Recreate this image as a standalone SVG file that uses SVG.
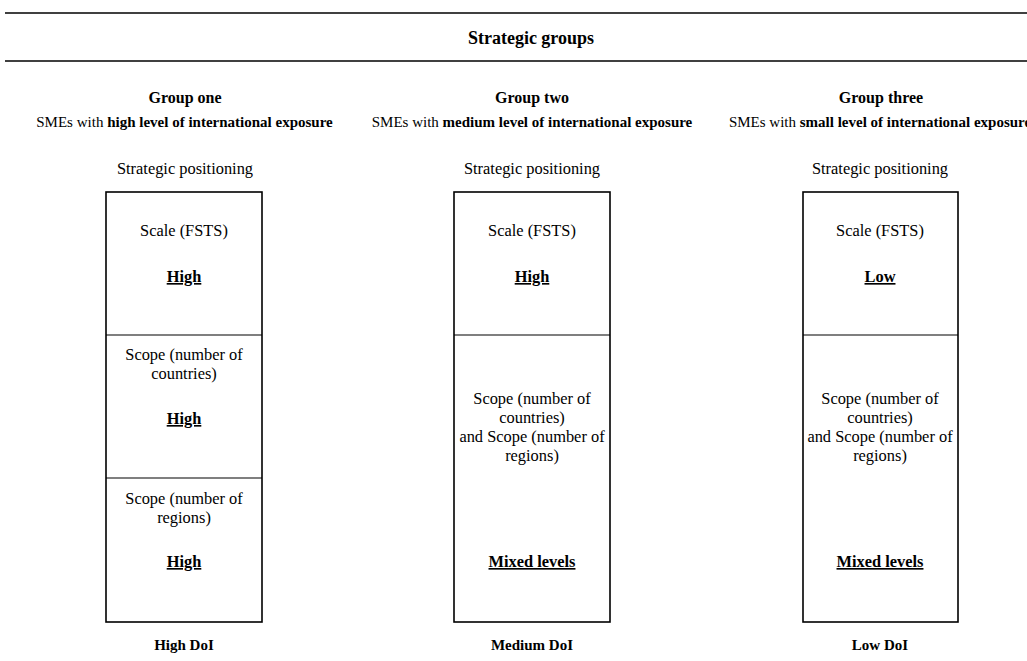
<svg xmlns="http://www.w3.org/2000/svg" width="1027" height="661" viewBox="0 0 1027 661">
<style>
text{font-family:"Liberation Serif","Times New Roman",serif;fill:#000;text-anchor:middle}
.t{font-size:16.4px}
.b{font-weight:bold}
.h{font-size:16px}
.s{font-size:15px}
.ti{font-size:18px}
.u{text-decoration:underline}
.box{fill:#fff;stroke:#000;stroke-width:1.6}
.div{stroke:#000;stroke-width:1.2}
.rule{stroke:#000;stroke-width:1.4}
</style>
<rect width="1027" height="661" fill="#fff"/>
<g id="header">
<line class="rule" x1="5" y1="13" x2="1027" y2="13"/>
<line class="rule" x1="5" y1="61" x2="1027" y2="61"/>
<text class="ti b" x="531" y="44">Strategic groups</text>
</g>
<g id="group-one">
<text class="h b" x="185" y="103">Group one</text>
<text class="s" x="184.5" y="126.5">SMEs with <tspan class="b">high level of international exposure</tspan></text>
<text class="t" x="185" y="173.5">Strategic positioning</text>
<rect class="box" x="106" y="192" width="156" height="430"/>
<line class="div" x1="106" y1="335" x2="262" y2="335"/>
<line class="div" x1="106" y1="478" x2="262" y2="478"/>
<text class="t" x="184" y="236">Scale (FSTS)</text>
<text class="t b u" x="184" y="282">High</text>
<text class="t" x="184" y="360">Scope (number of</text>
<text class="t" x="184" y="379">countries)</text>
<text class="t b u" x="184" y="424">High</text>
<text class="t" x="184" y="504">Scope (number of</text>
<text class="t" x="184" y="523">regions)</text>
<text class="t b u" x="184" y="567">High</text>
<text class="s b" x="184" y="650">High DoI</text>
</g>
<g id="group-two">
<text class="h b" x="532" y="103">Group two</text>
<text class="s" x="532" y="126.5">SMEs with <tspan class="b">medium level of international exposure</tspan></text>
<text class="t" x="532" y="173.5">Strategic positioning</text>
<rect class="box" x="454" y="192" width="156" height="430"/>
<line class="div" x1="454" y1="335" x2="610" y2="335"/>
<text class="t" x="532" y="236">Scale (FSTS)</text>
<text class="t b u" x="532" y="282">High</text>
<text class="t" x="532" y="404">Scope (number of</text>
<text class="t" x="532" y="423">countries)</text>
<text class="t" x="532" y="442">and Scope (number of</text>
<text class="t" x="532" y="461">regions)</text>
<text class="t b u" x="532" y="567">Mixed levels</text>
<text class="s b" x="532" y="650">Medium DoI</text>
</g>
<g id="group-three">
<text class="h b" x="881" y="103">Group three</text>
<text class="s" x="880" y="126.5">SMEs with <tspan class="b">small level of international exposure</tspan></text>
<text class="t" x="880" y="173.5">Strategic positioning</text>
<rect class="box" x="803" y="192" width="155" height="430"/>
<line class="div" x1="803" y1="335" x2="958" y2="335"/>
<text class="t" x="880" y="236">Scale (FSTS)</text>
<text class="t b u" x="880" y="282">Low</text>
<text class="t" x="880" y="404">Scope (number of</text>
<text class="t" x="880" y="423">countries)</text>
<text class="t" x="880" y="442">and Scope (number of</text>
<text class="t" x="880" y="461">regions)</text>
<text class="t b u" x="880" y="567">Mixed levels</text>
<text class="s b" x="880" y="650">Low DoI</text>
</g>
<g id="connectors"/>
</svg>
